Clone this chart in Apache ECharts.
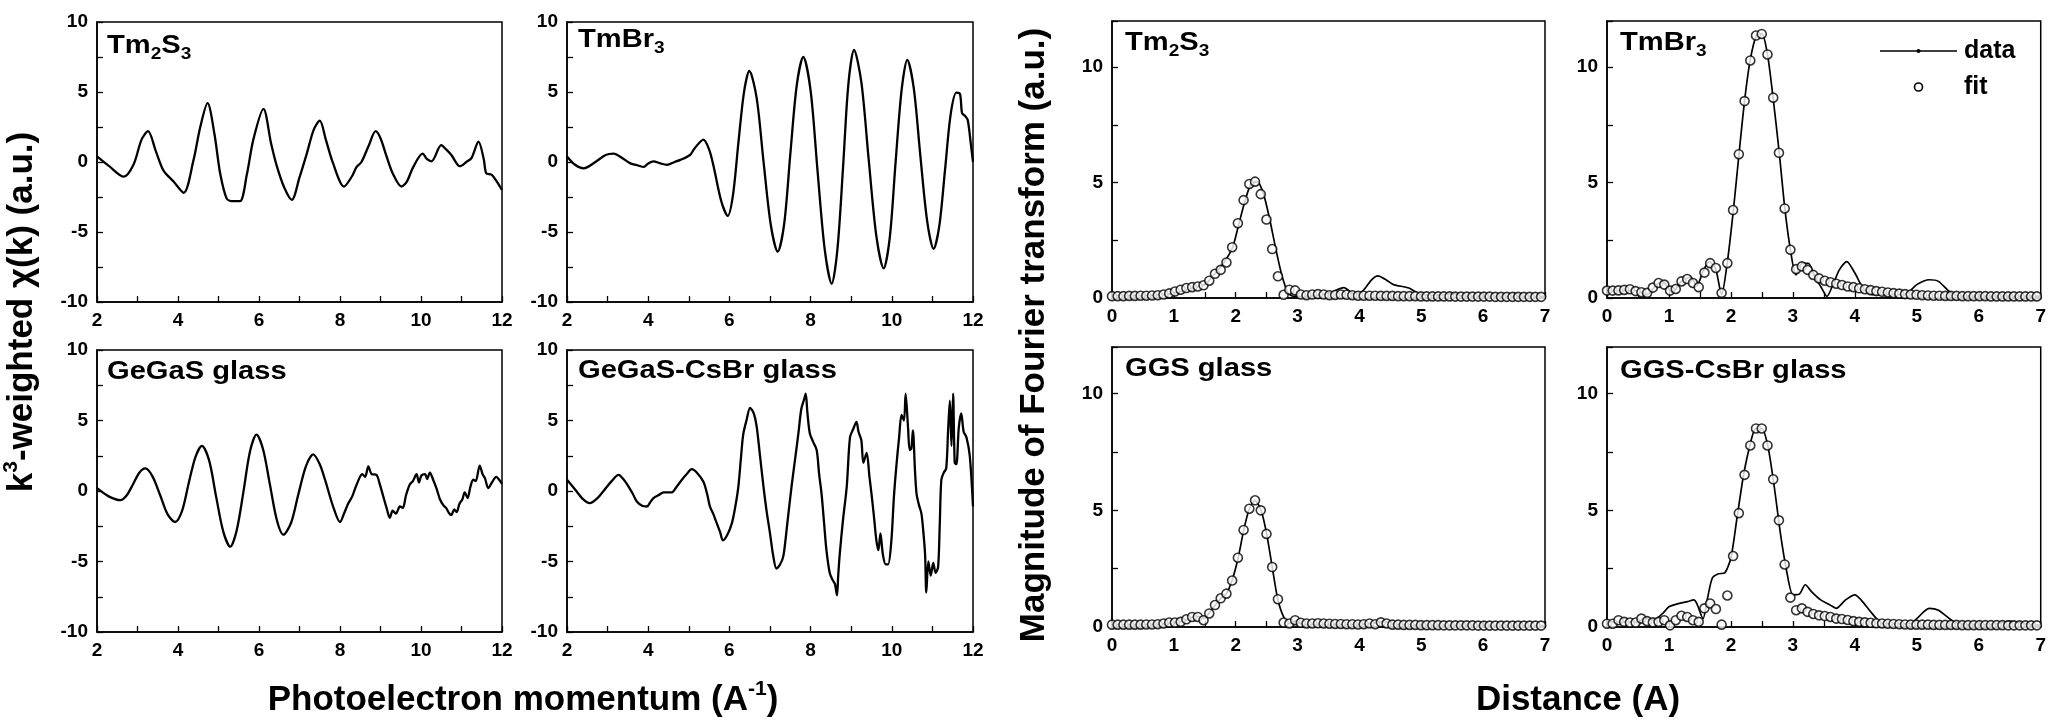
<!DOCTYPE html>
<html>
<head>
<meta charset="utf-8">
<title>EXAFS k-space and Fourier transforms</title>
<script src="https://cdn.jsdelivr.net/npm/echarts@6/dist/echarts.min.js"></script>
<style>
  html, body { margin: 0; padding: 0; background: #fff; }
  #chart { width: 2049px; height: 721px; }
</style>
</head>
<body>
<div id="chart"></div>
<script>
// ---------- k-space EXAFS, k^3-weighted chi(k) ----------
const tm2s3K = [2.0,2.3,2.66,2.9,3.1,3.26,3.45,3.64,3.89,4.14,4.38,4.55,4.73,4.9,5.04,5.2,5.35,5.53,5.7,5.86,6.11,6.3,6.44,6.62,6.81,7.0,7.18,7.35,7.5,7.65,7.83,8.1,8.3,8.41,8.53,8.7,8.88,9.0,9.15,9.3,9.52,9.65,9.81,10.04,10.15,10.26,10.5,10.62,10.75,10.96,11.12,11.25,11.42,11.55,11.61,11.74,11.85,12.0];
const tm2s3Chi = [0.4,-0.3,-1.05,-0.2,1.6,2.2,0.8,-0.6,-1.4,-2.2,0.1,2.5,4.2,2.0,-0.8,-2.6,-2.8,-2.8,-0.9,1.6,3.8,1.3,-0.3,-1.8,-2.7,-1.1,0.6,2.3,2.95,1.6,-0.1,-1.75,-1.0,-0.35,0.0,1.1,2.2,1.7,0.4,-0.8,-1.75,-1.4,-0.35,0.6,0.2,0.05,1.2,0.9,0.5,-0.3,0.0,0.3,1.45,0.2,-0.8,-0.9,-1.3,-2.0];

const tmbr3K = [2.0,2.2,2.41,2.7,2.95,3.15,3.35,3.56,3.75,3.89,4.0,4.13,4.3,4.46,4.65,4.79,5.03,5.15,5.36,5.5,5.61,5.8,5.96,6.09,6.22,6.36,6.49,6.67,6.84,7.02,7.19,7.35,7.5,7.66,7.82,8.0,8.17,8.35,8.52,8.66,8.8,8.93,9.07,9.25,9.43,9.62,9.8,9.95,10.09,10.24,10.38,10.54,10.7,10.87,11.03,11.17,11.31,11.45,11.59,11.68,11.73,11.8,11.87,11.95,12.0];
const tmbr3Chi = [0.4,-0.2,-0.45,0.0,0.5,0.6,0.3,-0.1,-0.25,-0.35,-0.1,0.05,-0.1,-0.2,0.0,0.15,0.5,1.0,1.6,0.9,-0.3,-2.8,-3.85,-2.33,1.33,4.99,6.5,4.6,0.05,-4.5,-6.4,-4.4,0.55,5.5,7.5,5.1,-0.6,-6.3,-8.7,-6.25,-0.35,5.55,8.0,5.7,0.2,-5.3,-7.6,-5.4,-0.15,5.1,7.3,5.3,0.55,-4.2,-6.2,-4.56,-0.6,3.4,4.95,4.85,3.5,3.3,3.0,1.2,0.0];

const gegasK = [2.0,2.3,2.58,2.73,2.89,3.04,3.19,3.37,3.56,3.74,3.93,4.1,4.26,4.43,4.59,4.77,4.94,5.12,5.29,5.45,5.62,5.78,5.94,6.1,6.27,6.44,6.6,6.79,6.97,7.16,7.34,7.5,7.63,7.83,8.0,8.1,8.2,8.3,8.41,8.55,8.62,8.7,8.78,8.9,8.98,9.07,9.15,9.23,9.3,9.38,9.48,9.55,9.63,9.72,9.8,9.89,9.95,10.01,10.1,10.15,10.22,10.3,10.38,10.47,10.55,10.62,10.7,10.75,10.82,10.88,10.95,11.02,11.08,11.15,11.22,11.29,11.35,11.45,11.52,11.58,11.66,11.75,11.86,11.93,12.0];
const gegasChi = [0.2,-0.4,-0.65,-0.32,0.48,1.28,1.6,1.04,-0.3,-1.64,-2.2,-1.41,0.5,2.41,3.2,2.15,-0.38,-2.9,-3.95,-2.78,0.03,2.84,4.0,2.96,0.45,-2.06,-3.1,-2.27,-0.25,1.77,2.6,1.9,0.8,-1.1,-2.2,-1.6,-0.9,-0.4,0.45,1.2,1.0,1.75,1.2,1.15,0.5,-0.4,-1.2,-1.9,-1.4,-1.6,-1.1,-1.2,-0.3,0.45,0.7,1.2,0.6,1.1,1.2,0.85,1.3,0.8,0.2,-0.6,-1.0,-1.2,-1.6,-1.7,-1.3,-1.5,-0.9,-0.6,-0.1,-0.5,0.3,0.8,0.7,1.8,1.2,0.9,0.2,0.6,1.0,0.8,0.5];

const gegasCsbrK = [2.0,2.2,2.4,2.56,2.75,2.9,3.1,3.27,3.4,3.52,3.62,3.72,3.85,3.97,4.05,4.13,4.25,4.38,4.58,4.7,4.83,4.95,5.07,5.2,5.36,5.45,5.52,5.6,5.69,5.77,5.84,5.95,6.06,6.14,6.22,6.28,6.34,6.42,6.51,6.6,6.67,6.75,6.84,6.92,7.0,7.08,7.16,7.25,7.33,7.43,7.53,7.62,7.7,7.77,7.84,7.88,7.92,7.98,8.06,8.15,8.21,8.27,8.33,8.39,8.47,8.54,8.6,8.65,8.68,8.72,8.8,8.89,8.97,9.05,9.13,9.18,9.25,9.3,9.38,9.45,9.5,9.56,9.62,9.67,9.72,9.78,9.85,9.91,9.99,10.05,10.11,10.18,10.24,10.3,10.34,10.4,10.44,10.48,10.52,10.57,10.61,10.67,10.73,10.78,10.82,10.85,10.9,10.96,11.02,11.08,11.14,11.18,11.22,11.28,11.34,11.39,11.43,11.47,11.51,11.55,11.59,11.65,11.71,11.77,11.84,11.92,12.0];
const gegasCsbrChi = [0.8,0.1,-0.6,-0.86,-0.5,0.0,0.7,1.15,0.8,0.3,-0.2,-0.75,-1.05,-1.1,-0.8,-0.5,-0.3,-0.1,-0.1,0.3,0.8,1.2,1.55,1.3,0.65,-0.2,-1.1,-1.6,-2.3,-2.9,-3.5,-3.1,-2.3,-1.2,0.3,2.2,4.0,5.0,5.9,5.5,4.6,2.6,0.3,-1.5,-3.0,-4.6,-5.5,-5.2,-4.6,-2.2,0.3,2.3,4.1,5.8,6.5,6.9,5.6,4.1,3.5,2.9,1.2,-0.2,-2.2,-4.2,-5.8,-6.3,-6.6,-7.4,-6.0,-4.4,-2.0,0.3,3.8,4.4,4.9,4.2,3.6,2.0,2.7,1.0,-0.2,-1.8,-3.5,-4.2,-3.0,-4.5,-5.2,-5.2,-3.5,-0.5,1.7,3.8,5.4,5.0,6.9,4.5,2.9,3.0,4.3,1.5,-0.2,-1.0,-1.6,-3.0,-4.5,-7.2,-5.0,-6.0,-5.1,-5.8,-5.4,-2.5,0.8,1.3,1.6,4.5,6.4,3.2,6.9,2.0,1.9,4.5,5.5,4.2,3.8,2.5,-1.1];

// ---------- Fourier transform magnitude: measured data ----------
const tm2s3FtR = [0,0.5,0.8,1.0,1.3,1.5,1.6,1.8,1.95,2.05,2.15,2.25,2.35,2.45,2.55,2.65,2.75,2.85,2.95,3.2,3.5,3.75,3.9,4.05,4.2,4.3,4.45,4.55,4.8,5.0,5.3,5.5,5.7,7.0];
const tm2s3FtMag = [0.1,0.1,0.15,0.2,0.43,0.58,0.86,1.5,2.2,3.2,4.2,4.96,5.04,4.5,3.4,2.1,0.94,0.2,0.07,0.08,0.2,0.45,0.2,0.3,0.8,0.96,0.75,0.58,0.43,0.14,0.12,0.19,0.07,0.07];

const tmbr3FtR = [0,0.3,0.5,0.64,0.8,0.9,1.05,1.2,1.35,1.45,1.55,1.65,1.75,1.85,1.94,2.04,2.13,2.22,2.31,2.41,2.5,2.59,2.68,2.78,2.87,2.96,3.05,3.15,3.25,3.35,3.45,3.55,3.65,3.75,3.87,4.0,4.15,4.3,4.8,5.0,5.2,5.35,5.55,5.7,7.0];
const tmbr3FtMag = [0.3,0.33,0.3,0.14,0.58,0.72,0.22,0.72,0.9,0.53,1.15,1.58,1.3,0.14,1.51,3.81,6.23,8.53,10.29,11.37,11.44,10.55,8.68,6.29,3.88,2.09,1.0,1.5,1.5,0.94,0.5,0.07,0.6,1.22,1.58,1.08,0.36,0.14,0.14,0.58,0.79,0.72,0.22,0.08,0.08];

const ggsFtR = [0,0.8,1.0,1.2,1.3,1.4,1.5,1.57,1.67,1.76,1.85,1.94,2.04,2.13,2.22,2.31,2.41,2.5,2.59,2.68,2.78,2.87,2.96,3.1,4.0,4.3,4.4,4.55,5.0,7.0];
const ggsFtMag = [0.1,0.12,0.18,0.3,0.42,0.45,0.38,0.6,0.94,1.23,1.43,1.99,2.97,4.16,5.07,5.43,5.0,3.99,2.57,1.19,0.4,0.15,0.25,0.1,0.1,0.2,0.25,0.12,0.08,0.06];

const ggsCsbrFtR = [0,0.3,0.5,0.6,0.75,0.9,1.0,1.15,1.3,1.4,1.45,1.55,1.62,1.7,1.8,1.9,2.0,2.1,2.2,2.3,2.4,2.5,2.6,2.7,2.8,2.9,3.0,3.1,3.2,3.3,3.45,3.6,3.7,3.85,4.0,4.1,4.3,4.45,4.9,5.0,5.2,5.35,5.6,5.8,6.3,6.5,6.8,7.0];
const ggsCsbrFtMag = [0.2,0.22,0.2,0.39,0.3,0.58,0.87,1.0,1.09,1.16,1.0,0.36,1.2,2.1,2.28,2.32,2.97,4.71,6.45,7.7,8.5,8.5,7.7,6.0,3.99,2.39,1.38,1.4,1.81,1.52,1.16,0.94,0.8,1.16,1.38,1.16,0.51,0.14,0.14,0.36,0.8,0.72,0.22,0.1,0.14,0.25,0.1,0.08];

// ---------- Fourier transform magnitude: fits, on the FT distance grid ----------
const R_STEP = 0.0925;
const tm2s3Fit = [0.08,0.08,0.08,0.09,0.09,0.1,0.1,0.11,0.12,0.15,0.2,0.28,0.36,0.43,0.47,0.5,0.55,0.75,1.05,1.22,1.54,2.2,3.24,4.24,4.94,5.04,4.5,3.4,2.12,0.94,0.14,0.36,0.33,0.15,0.12,0.15,0.17,0.15,0.12,0.13,0.15,0.14,0.12,0.1,0.1,0.1,0.1,0.09,0.09,0.09,0.08,0.08,0.08,0.08,0.07,0.07,0.07,0.07,0.07,0.07,0.06,0.06,0.06,0.06,0.06,0.06,0.06,0.05,0.05,0.05,0.05,0.05,0.05,0.05,0.05,0.05];
const tmbr3Fit = [0.32,0.32,0.33,0.35,0.38,0.3,0.25,0.22,0.45,0.65,0.58,0.32,0.39,0.72,0.82,0.65,0.47,1.1,1.51,1.3,0.22,1.51,3.81,6.23,8.53,10.29,11.37,11.44,10.55,8.68,6.29,3.88,2.09,1.25,1.37,1.22,1.0,0.85,0.75,0.68,0.62,0.56,0.5,0.47,0.42,0.38,0.34,0.3,0.27,0.24,0.21,0.19,0.17,0.15,0.14,0.12,0.11,0.1,0.1,0.09,0.09,0.09,0.08,0.08,0.08,0.08,0.08,0.07,0.07,0.07,0.07,0.07,0.07,0.07,0.07,0.07];
const ggsFit = [0.1,0.1,0.1,0.1,0.1,0.1,0.11,0.11,0.12,0.15,0.19,0.19,0.22,0.33,0.43,0.43,0.29,0.58,0.94,1.23,1.43,1.99,2.97,4.16,5.07,5.43,5.0,3.99,2.57,1.19,0.19,0.15,0.29,0.18,0.15,0.15,0.16,0.15,0.14,0.13,0.13,0.12,0.12,0.11,0.12,0.15,0.12,0.2,0.15,0.1,0.1,0.09,0.09,0.09,0.08,0.08,0.08,0.08,0.07,0.07,0.07,0.07,0.07,0.07,0.06,0.06,0.06,0.06,0.06,0.06,0.06,0.06,0.06,0.06,0.06,0.06];
const ggsCsbrFit = [0.14,0.14,0.29,0.22,0.19,0.19,0.36,0.25,0.2,0.22,0.29,0.07,0.29,0.48,0.43,0.29,0.22,0.8,1.01,0.77,0.1,1.35,3.04,4.88,6.52,7.78,8.51,8.51,7.78,6.33,4.57,2.68,1.26,0.72,0.8,0.65,0.56,0.5,0.47,0.43,0.36,0.34,0.3,0.25,0.22,0.2,0.18,0.16,0.15,0.14,0.13,0.12,0.11,0.1,0.1,0.1,0.1,0.09,0.09,0.09,0.09,0.09,0.08,0.08,0.08,0.08,0.08,0.08,0.08,0.08,0.07,0.07,0.07,0.07,0.07,0.07];

// ---------- panel titles and axis labels ----------
const chiTitles = [['Tm', '2', 'S', '3'], ['TmBr', '3'], ['GeGaS glass'], ['GeGaS-CsBr glass']];
const ftTitles = [['Tm', '2', 'S', '3'], ['TmBr', '3'], ['GGS glass'], ['GGS-CsBr glass']];
const legendNames = ['data', 'fit'];

// ---------- drawing ----------
const FONT = '"Liberation Sans", Arial, Helvetica, sans-serif';
const INK = '#000';
const zip = (xs, ys) => xs.map((x, i) => [x, ys[i]]);

const chiPanels = [
  { k: tm2s3K, chi: tm2s3Chi, rect: { left: 97, top: 22, width: 405, height: 280 }, title: chiTitles[0], tx: 107, ty: 46 },
  { k: tmbr3K, chi: tmbr3Chi, rect: { left: 567, top: 22, width: 406, height: 280 }, title: chiTitles[1], tx: 578, ty: 40 },
  { k: gegasK, chi: gegasChi, rect: { left: 97, top: 350, width: 405, height: 282 }, title: chiTitles[2], tx: 107, ty: 372 },
  { k: gegasCsbrK, chi: gegasCsbrChi, rect: { left: 567, top: 350, width: 406, height: 282 }, title: chiTitles[3], tx: 578, ty: 371 }
];
const ftPanels = [
  { r: tm2s3FtR, mag: tm2s3FtMag, fit: tm2s3Fit, rect: { left: 1112, top: 21, width: 433, height: 277 }, title: ftTitles[0], tx: 1125, ty: 43 },
  { r: tmbr3FtR, mag: tmbr3FtMag, fit: tmbr3Fit, rect: { left: 1607, top: 21, width: 435, height: 277 }, title: ftTitles[1], tx: 1620, ty: 43 },
  { r: ggsFtR, mag: ggsFtMag, fit: ggsFit, rect: { left: 1112, top: 347, width: 433, height: 280 }, title: ftTitles[2], tx: 1125, ty: 369 },
  { r: ggsCsbrFtR, mag: ggsCsbrFtMag, fit: ggsCsbrFit, rect: { left: 1607, top: 347, width: 435, height: 280 }, title: ftTitles[3], tx: 1620, ty: 371 }
];

function everyN(n) {
  return v => (Math.abs(v / n - Math.round(v / n)) < 1e-6 ? String(Math.round(v)) : '');
}
function axis(gridIndex, min, max, step, labelStep) {
  return {
    type: 'value', gridIndex, min, max, interval: step,
    axisLine: { onZero: false, lineStyle: { color: INK, width: 1.5 } },
    axisTick: { inside: true, length: 6, lineStyle: { color: INK, width: 1.3 } },
    splitLine: { show: false },
    axisLabel: {
      color: INK, fontFamily: FONT, fontWeight: 'bold', fontSize: 19, margin: 9,
      formatter: everyN(labelStep), showMinLabel: true, showMaxLabel: true
    }
  };
}

const grid = [], xAxis = [], yAxis = [], series = [], graphic = [];

function panelLabel(parts, x, y) {
  let text = '';
  parts.forEach((p, i) => { text += i % 2 === 0 ? '{m|' + p + '}' : '{s|' + p + '}'; });
  graphic.push({
    type: 'text', x, y, scaleX: 1.12, z: 10,
    style: {
      text, align: 'left', verticalAlign: 'middle', fill: INK,
      rich: {
        m: { fontFamily: FONT, fontWeight: 'bold', fontSize: 26, lineHeight: 34, verticalAlign: 'middle', fill: INK },
        s: { fontFamily: FONT, fontWeight: 'bold', fontSize: 17, lineHeight: 4, verticalAlign: 'bottom', fill: INK }
      }
    }
  });
}

const frame = { show: true, borderColor: INK, borderWidth: 1.5, backgroundColor: 'transparent' };

chiPanels.forEach((p, i) => {
  grid.push(Object.assign({}, p.rect, frame));
  xAxis.push(axis(i, 2, 12, 1, 2));
  yAxis.push(axis(i, -10, 10, 2.5, 5));
  series.push({
    type: 'line', xAxisIndex: i, yAxisIndex: i, data: zip(p.k, p.chi),
    showSymbol: false, symbol: 'none', smooth: 0.3,
    lineStyle: { color: INK, width: 2.3 }
  });
  panelLabel(p.title, p.tx, p.ty);
});

ftPanels.forEach((p, j) => {
  const i = j + 4;
  grid.push(Object.assign({}, p.rect, frame));
  xAxis.push(axis(i, 0, 7, 0.5, 1));
  yAxis.push(axis(i, 0, 12, 2.5, 5));
  series.push({
    name: legendNames[0], type: 'line', xAxisIndex: i, yAxisIndex: i,
    data: zip(p.r, p.mag), showSymbol: false, symbol: 'none', smooth: 0.25,
    lineStyle: { color: INK, width: 1.7 }, z: 2
  });
  series.push({
    name: legendNames[1], type: 'scatter', xAxisIndex: i, yAxisIndex: i,
    data: p.fit.map((v, n) => [+(n * R_STEP).toFixed(4), v]),
    symbol: 'circle', symbolSize: 9,
    itemStyle: { color: '#fff', borderColor: INK, borderWidth: 1.6 }, z: 3
  });
  panelLabel(p.title, p.tx, p.ty);
});

// key for the data/fit symbols
graphic.push(
  { type: 'line', shape: { x1: 1880, y1: 51, x2: 1957, y2: 51 }, style: { stroke: INK, lineWidth: 1.6 }, z: 10 },
  { type: 'circle', shape: { cx: 1918.5, cy: 51, r: 2 }, style: { fill: INK }, z: 10 },
  { type: 'circle', shape: { cx: 1918.5, cy: 87, r: 4 }, style: { fill: '#fff', stroke: INK, lineWidth: 1.6 }, z: 10 },
  { type: 'text', x: 1964, y: 51, z: 10, style: { text: legendNames[0], fill: INK, font: 'bold 25px ' + FONT, align: 'left', verticalAlign: 'middle' } },
  { type: 'text', x: 1964, y: 87, z: 10, style: { text: legendNames[1], fill: INK, font: 'bold 25px ' + FONT, align: 'left', verticalAlign: 'middle' } }
);

// axis titles
const titleRich = {
  t: { fontFamily: FONT, fontWeight: 'bold', fontSize: 35, lineHeight: 42, verticalAlign: 'middle', fill: INK },
  u: { fontFamily: FONT, fontWeight: 'bold', fontSize: 21, lineHeight: 16, verticalAlign: 'top', fill: INK }
};
graphic.push(
  { type: 'text', x: 22, y: 312, rotation: Math.PI / 2, z: 10,
    style: { text: '{t|k}{u|3}{t|-weighted χ(k) (a.u.)}', rich: titleRich, align: 'center', verticalAlign: 'middle' } },
  { type: 'text', x: 1034, y: 335, rotation: Math.PI / 2, z: 10,
    style: { text: '{t|Magnitude of Fourier transform (a.u.)}', rich: titleRich, align: 'center', verticalAlign: 'middle' } },
  { type: 'text', x: 523, y: 700, z: 10,
    style: { text: '{t|Photoelectron momentum (A}{u|-1}{t|)}', rich: titleRich, align: 'center', verticalAlign: 'middle' } },
  { type: 'text', x: 1578, y: 700, z: 10,
    style: { text: '{t|Distance (A)}', rich: titleRich, align: 'center', verticalAlign: 'middle' } }
);

const chart = echarts.init(document.getElementById('chart'), null, { renderer: 'canvas' });
chart.setOption({
  backgroundColor: '#fff',
  animation: false,
  grid, xAxis, yAxis, series,
  graphic: { elements: graphic }
});
</script>
</body>
</html>
